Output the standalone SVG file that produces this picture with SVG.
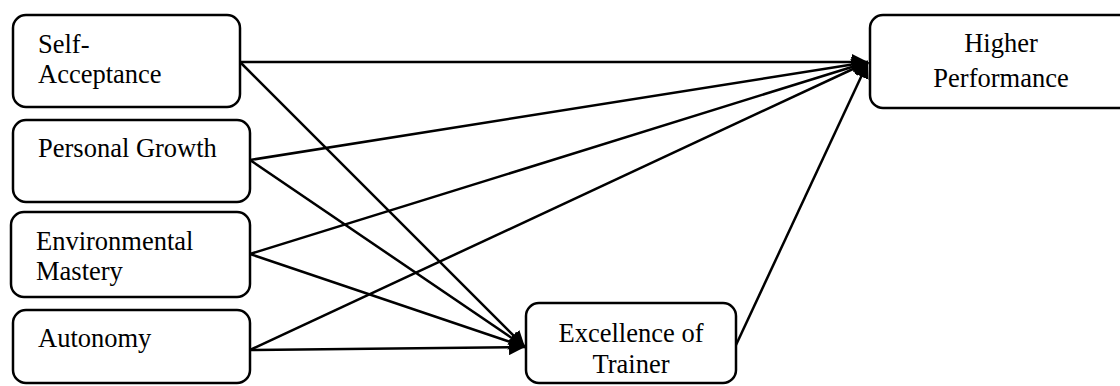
<svg xmlns="http://www.w3.org/2000/svg" width="1120" height="386" viewBox="0 0 1120 386">
<style>
.box{fill:#fff;stroke:#000;stroke-width:2.5}
.t{font-family:"Liberation Serif","Times New Roman",serif;font-size:26.5px;fill:#000}
.c{stroke:#000;stroke-width:2.5;fill:none}
</style>
<defs>
<marker id="ah" markerUnits="userSpaceOnUse" markerWidth="18" markerHeight="16" refX="16" refY="8" orient="auto">
<path d="M0,0 L16,8 L0,16 Z" fill="#000"/>
</marker>
</defs>
<g id="self-acceptance"><rect class="box" x="13" y="15" width="227" height="92" rx="13"/><text class="t" x="38" y="53">Self-</text><text class="t" x="38" y="83">Acceptance</text></g>
<g id="personal-growth"><rect class="box" x="13" y="120" width="237" height="82" rx="13"/><text class="t" x="38" y="157">Personal Growth</text></g>
<g id="environmental-mastery"><rect class="box" x="11" y="212" width="239" height="85" rx="13"/><text class="t" x="36" y="250">Environmental</text><text class="t" x="36" y="280">Mastery</text></g>
<g id="autonomy"><rect class="box" x="13" y="310" width="237" height="73" rx="13"/><text class="t" x="38" y="347">Autonomy</text></g>
<g id="excellence-of-trainer"><rect class="box" x="526" y="303" width="210" height="80" rx="13"/><text class="t" x="631" y="342" text-anchor="middle">Excellence of</text><text class="t" x="631" y="373" text-anchor="middle">Trainer</text></g>
<g id="higher-performance"><rect class="box" x="870" y="15" width="270" height="93" rx="13"/><text class="t" x="1001" y="52" text-anchor="middle">Higher</text><text class="t" x="1001" y="87" text-anchor="middle">Performance</text></g>
<g id="connectors">
<line class="c" x1="240" y1="62" x2="868" y2="62" marker-end="url(#ah)"/>
<line class="c" x1="250" y1="160" x2="868" y2="62" marker-end="url(#ah)"/>
<line class="c" x1="250" y1="254" x2="868" y2="62" marker-end="url(#ah)"/>
<line class="c" x1="250" y1="350" x2="868" y2="62" marker-end="url(#ah)"/>
<line class="c" x1="736" y1="345" x2="868" y2="62" marker-end="url(#ah)"/>
<line class="c" x1="240" y1="62" x2="525" y2="347" marker-end="url(#ah)"/>
<line class="c" x1="250" y1="160" x2="525" y2="347" marker-end="url(#ah)"/>
<line class="c" x1="250" y1="254" x2="525" y2="347" marker-end="url(#ah)"/>
<line class="c" x1="250" y1="350" x2="525" y2="347" marker-end="url(#ah)"/>
</g>
</svg>
